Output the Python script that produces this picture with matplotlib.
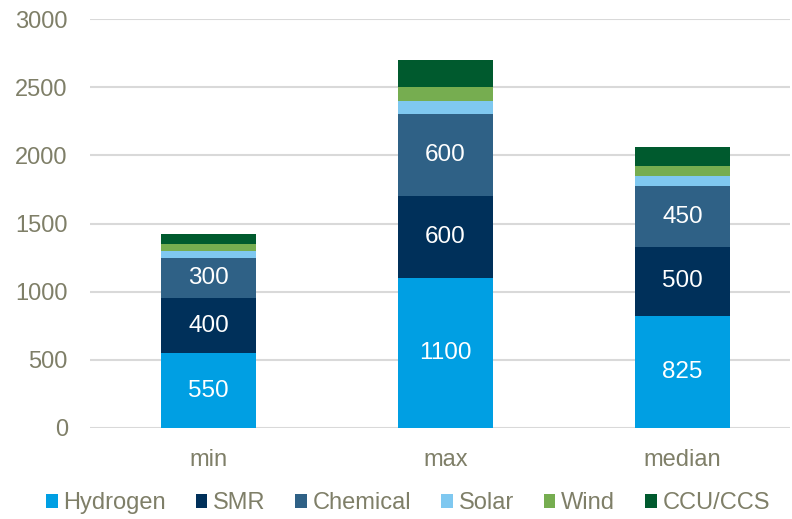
import matplotlib

matplotlib.use("Agg")
import matplotlib.pyplot as plt
import numpy as np

plt.rcParams["font.family"] = ["Liberation Sans", "DejaVu Sans"]

categories = ["min", "max", "median"]
series = ["Hydrogen", "SMR", "Chemical", "Solar", "Wind", "CCU/CCS"]
hydrogen = [550, 1100, 825]
smr = [400, 600, 500]
chemical = [300, 600, 450]
solar = [50, 100, 75]
wind = [50, 100, 75]
ccu = [75, 200, 137.5]
labelled = {"Hydrogen", "SMR", "Chemical"}

colors = ["#009FE3", "#00305A", "#2F6186", "#7FC8F0", "#76AD50", "#005A2E"]
text_color = "#7F7F68"

fig = plt.figure(figsize=(7.92, 5.19), dpi=100)
ax = fig.add_axes([90 / 792, 1 - 428 / 519, 700 / 792, 409 / 519])

x = np.arange(len(categories))
bottom = np.zeros(len(categories))
for name, vals, color in zip(series, [hydrogen, smr, chemical, solar, wind, ccu], colors):
    vals = np.array(vals, dtype=float)
    bars = ax.bar(x, vals, 0.40, bottom=bottom, color=color, label=name, zorder=3)
    if name in labelled:
        for rect, v, b in zip(bars, vals, bottom):
            ax.text(rect.get_x() + rect.get_width() / 2, b + v / 2, f"{v:g}",
                    ha="center", va="center", color="white", fontsize=17.5, zorder=4)
    bottom += vals

ax.set_ylim(0, 3000)
ax.set_xlim(-0.5, 2.454)
ax.set_yticks(range(0, 3001, 500))
ax.set_xticks(x)
ax.set_xticklabels(categories)
ax.grid(axis="y", color="#D9D9D9", linewidth=1.5, zorder=0)
for s in ax.spines.values():
    s.set_visible(False)
ax.tick_params(axis="both", length=0, labelsize=17, labelcolor=text_color)
ax.tick_params(axis="y", pad=16)
ax.tick_params(axis="x", pad=15)

fig.legend(loc="lower center", bbox_to_anchor=(0.515, -0.032), ncol=6, frameon=False,
           fontsize=17, labelcolor=text_color, handlelength=0.5, handleheight=0.5,
           handletextpad=0.25, columnspacing=1.25)

fig.savefig("out.png", dpi=100)
